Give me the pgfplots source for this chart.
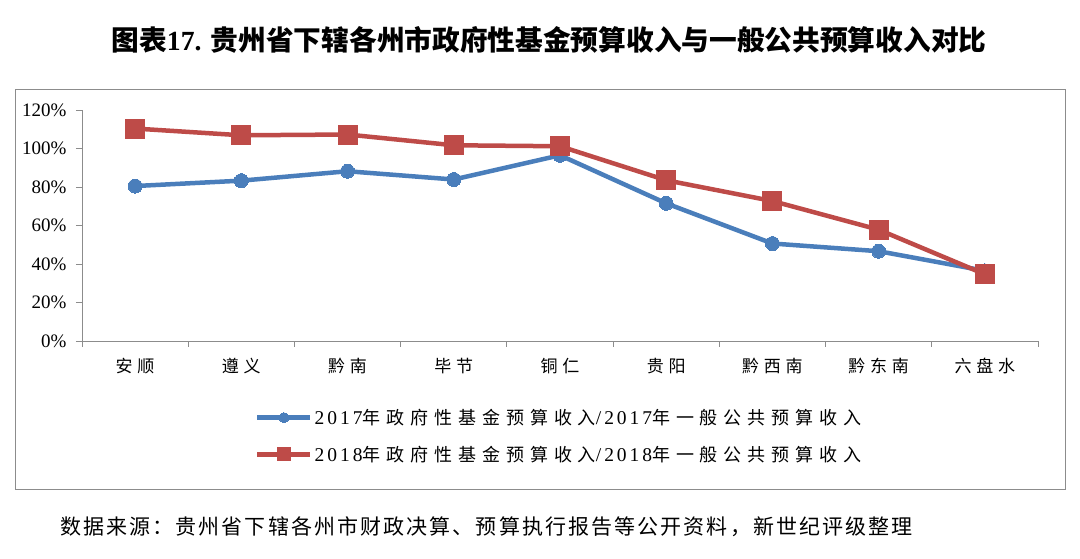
\documentclass[border=0pt]{standalone}
\usepackage{fontspec}
\usepackage{pgfplots}
\pgfplotsset{compat=1.18}
\setmainfont{Liberation Serif}
\newfontfamily\cjk{Noto Sans CJK SC}
\newfontfamily\cjksp[LetterSpace=28]{Noto Sans CJK SC}
\newfontfamily\cjkleg[LetterSpace=33]{Noto Sans CJK SC}
\newfontfamily\serleg[LetterSpace=15]{Liberation Serif}
\newfontfamily\cjksrc[LetterSpace=10]{Noto Sans CJK SC}
\definecolor{sblue}{HTML}{4A7EBB}
\definecolor{sred}{HTML}{BE4B48}
\definecolor{axgray}{HTML}{8C8C8C}
\newcommand\catfont{\fontsize{17}{17}\selectfont\cjksp}
\newcommand\legA{{\fontsize{19.5}{19.5}\selectfont\serleg 2017}{\fontsize{18}{18}\selectfont\cjkleg 年政府性基金预算收入}{\fontsize{19.5}{19.5}\selectfont\serleg /2017}{\fontsize{18}{18}\selectfont\cjkleg 年一般公共预算收入}}
\newcommand\legB{{\fontsize{19.5}{19.5}\selectfont\serleg 2018}{\fontsize{18}{18}\selectfont\cjkleg 年政府性基金预算收入}{\fontsize{19.5}{19.5}\selectfont\serleg /2018}{\fontsize{18}{18}\selectfont\cjkleg 年一般公共预算收入}}
\begin{document}
\begin{tikzpicture}
\useasboundingbox (0,0) rectangle (1080pt,559pt);
\draw[line width=1pt, color=axgray] (15pt,469pt) rectangle (1065pt,69pt);
\node[anchor=center, inner sep=0pt] at (549pt,519pt) {\fontsize{27.7}{27.7}\selectfont{\cjk\bfseries 图表}{\bfseries 17. }{\cjk\bfseries 贵州省下辖各州市政府性基金预算收入与一般公共预算收入对比}};
\node[anchor=west, inner sep=0pt] at (60pt,32pt) {\fontsize{21}{21}\selectfont\cjksrc 数据来源：贵州省下辖各州市财政决算、预算执行报告等公开资料，新世纪评级整理};
\begin{axis}[
  at={(82pt,218pt)}, anchor=south west,
  scale only axis, width=956pt, height=230.7pt,
  xmin=0, xmax=9, ymin=0, ymax=120,
  axis x line*=bottom, axis y line*=left,
  axis line style={-, draw=axgray, line width=0.8pt},
  ytick={0,20,...,120},
  yticklabel={\pgfmathprintnumber{\tick}\%},
  /pgf/number format/assume math mode=true,
  yticklabel style={font=\fontsize{19}{19}\selectfont, xshift=-6pt},
  tick align=outside, major tick length=6pt,
  tick style={draw=axgray, line width=0.8pt},
  xtick={0.5,1.5,...,8.5},
  xticklabels={安顺,遵义,黔南,毕节,铜仁,贵阳,黔西南,黔东南,六盘水},
  xticklabel style={font=\catfont, yshift=-8pt},
  major x tick style={draw=none},
  minor xtick={0,1,...,9}, minor tick length=6pt,
  minor x tick style={draw=axgray, line width=0.8pt},
  clip=false,
  legend style={draw=none, fill=none, at={(axis description cs:0.181,-0.412)}, anchor=west,
    inner sep=0pt, row sep=16pt, column sep=0pt, cells={anchor=west, inner sep=2pt}},
  legend image code/.code={\draw[mark repeat=2,mark phase=2,#1] plot coordinates {(0pt,0pt) (26.5pt,0pt) (53pt,0pt)};},
]
\addplot[color=sblue, line width=4.5pt, mark=*, mark size=7pt, mark options={fill=sblue, draw=sblue, line width=0pt},
  legend image post style={mark size=5pt}]
  coordinates {(0.5,80.6) (1.5,83.4) (2.5,88.3) (3.5,84.0) (4.5,96.6) (5.5,71.6) (6.5,50.7) (7.5,46.7) (8.5,36.5)};
\addlegendentry{\legA}
\addplot[color=sred, line width=4.5pt, mark=square*, mark size=9.5pt, mark options={fill=sred, draw=sred, line width=0pt},
  legend image post style={mark size=6.5pt}]
  coordinates {(0.5,110.5) (1.5,107.0) (2.5,107.4) (3.5,101.8) (4.5,101.3) (5.5,83.6) (6.5,72.8) (7.5,57.9) (8.5,34.7)};
\addlegendentry{\legB}
\end{axis}
\end{tikzpicture}
\end{document}
